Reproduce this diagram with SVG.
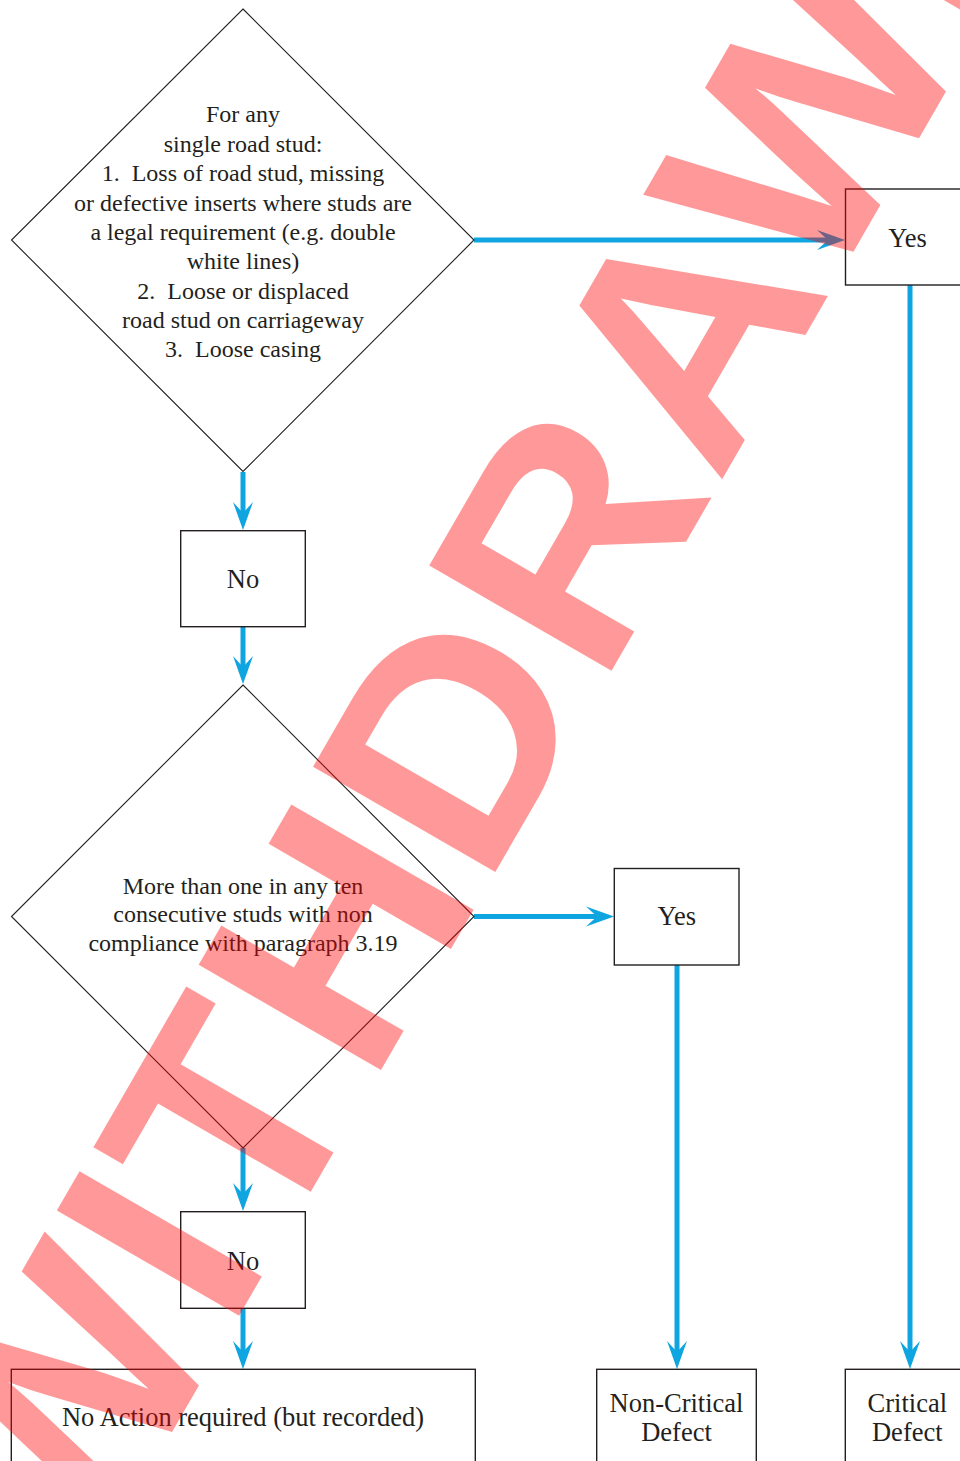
<svg xmlns="http://www.w3.org/2000/svg" width="960" height="1461" viewBox="0 0 960 1461">
  <style>
    .box { fill: #ffffff; stroke: #231f20; stroke-width: 1.4; }
    .dia { fill: #ffffff; stroke: #231f20; stroke-width: 1.1; }
    .lbl { font-family: "Liberation Serif", "Times New Roman", serif; font-size: 24px; fill: #231f20; text-anchor: middle; }
    .big { font-size: 26.5px; }
    .wire { fill: none; stroke: #0ea5e0; stroke-width: 5; }
    .stamp { font-family: "Liberation Sans", Arial, sans-serif; font-weight: bold; font-size: 306px; fill: #ff0000; fill-opacity: 0.4; }
  </style>
  <defs>
    <marker id="ah" markerUnits="userSpaceOnUse" viewBox="-11 -11 30 22" refX="0" refY="0" markerWidth="30" markerHeight="22" orient="auto">
      <path d="M-11,-10 L17,0 L-11,10 L0,0 Z" fill="#0ea5e0"/>
    </marker>
  </defs>
  <rect x="0" y="0" width="960" height="1461" fill="#ffffff"/>

  <!-- connectors -->
  <g id="connectors">
    <line class="wire" x1="243" y1="472" x2="243" y2="513" marker-end="url(#ah)"/>
    <line class="wire" x1="243" y1="627" x2="243" y2="667" marker-end="url(#ah)"/>
    <line class="wire" x1="243" y1="1148" x2="243" y2="1194" marker-end="url(#ah)"/>
    <line class="wire" x1="243" y1="1308" x2="243" y2="1352" marker-end="url(#ah)"/>
    <line class="wire" x1="474" y1="240" x2="828" y2="240" marker-end="url(#ah)"/>
    <line class="wire" x1="474" y1="916.5" x2="597" y2="916.5" marker-end="url(#ah)"/>
    <line class="wire" x1="910" y1="285" x2="910" y2="1352" marker-end="url(#ah)"/>
    <line class="wire" x1="677" y1="965" x2="677" y2="1352" marker-end="url(#ah)"/>
  </g>

  <!-- decision: single stud -->
  <g id="decision-single">
    <polygon class="dia" points="243,9 474,240 243,471.5 11.5,240"/>
    <text class="lbl" x="243" y="122">For any</text>
    <text class="lbl" x="243" y="151.5">single road stud:</text>
    <text class="lbl" x="243" y="181">1.&#160; Loss of road stud, missing</text>
    <text class="lbl" x="243" y="210.5">or defective inserts where studs are</text>
    <text class="lbl" x="243" y="240">a legal requirement (e.g. double</text>
    <text class="lbl" x="243" y="269">white lines)</text>
    <text class="lbl" x="243" y="298.5">2.&#160; Loose or displaced</text>
    <text class="lbl" x="243" y="328">road stud on carriageway</text>
    <text class="lbl" x="243" y="357">3.&#160; Loose casing</text>
  </g>

  <g id="yes-critical">
    <rect class="box" x="845.5" y="189" width="125" height="96"/>
    <text class="lbl big" x="907.5" y="247">Yes</text>
  </g>

  <g id="no-1">
    <rect class="box" x="180.7" y="530.7" width="124.6" height="96"/>
    <text class="lbl big" x="243" y="587.5">No</text>
  </g>

  <!-- decision: ten consecutive studs -->
  <g id="decision-ten">
    <polygon class="dia" points="243,685 474,916.5 243,1148 11.5,916.5"/>
    <text class="lbl" x="243" y="893.5">More than one in any ten</text>
    <text class="lbl" x="243" y="922">consecutive studs with non</text>
    <text class="lbl" x="243" y="951">compliance with paragraph 3.19</text>
  </g>

  <g id="yes-noncritical">
    <rect class="box" x="614.3" y="868.5" width="124.7" height="96.5"/>
    <text class="lbl big" x="676.7" y="925">Yes</text>
  </g>

  <g id="no-2">
    <rect class="box" x="180.7" y="1211.7" width="124.6" height="96.6"/>
    <text class="lbl big" x="243" y="1269.5">No</text>
  </g>

  <g id="no-action">
    <rect class="box" x="11.3" y="1369.3" width="464" height="110"/>
    <text class="lbl big" x="243" y="1425.5">No Action required (but recorded)</text>
  </g>

  <g id="non-critical-defect">
    <rect class="box" x="596.7" y="1369.3" width="159.6" height="110"/>
    <text class="lbl big" x="676.5" y="1411.5">Non-Critical</text>
    <text class="lbl big" x="676.5" y="1441">Defect</text>
  </g>

  <g id="critical-defect">
    <rect class="box" x="845.3" y="1369.3" width="124" height="110"/>
    <text class="lbl big" x="907.3" y="1411.5">Critical</text>
    <text class="lbl big" x="907.3" y="1441">Defect</text>
  </g>

  <!-- status stamp across the page, glyphs placed along a -60 degree baseline -->
  <text class="stamp" transform="rotate(-60) scale(1.03 1)" x="-1302.4 -1010.7 -922.6 -735.3 -513.3 -287.6 -60 148.1 437.6" y="865">WITHDRAWN</text>
</svg>
